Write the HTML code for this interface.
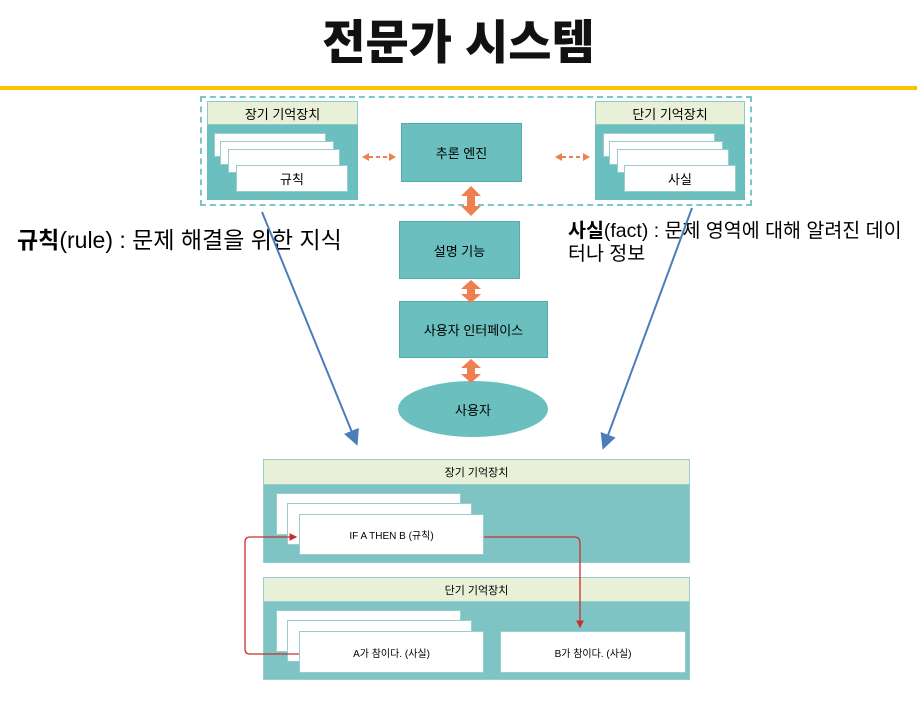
<!DOCTYPE html>
<html><head><meta charset="utf-8"><style>
body{margin:0;width:917px;height:703px;background:#fff;position:relative;overflow:hidden;font-family:"Liberation Sans","Noto Sans CJK KR",sans-serif;}
.a{position:absolute;box-sizing:border-box;}
.c{display:flex;align-items:center;justify-content:center;}
.w{background:#fff;border:1px solid #9cc;}
</style></head><body>
<div class="a c" style="left:0;top:8px;width:917px;height:60px;font-size:47px;font-weight:900;color:#111">전문가 시스템</div>
<div class="a" style="left:0;top:86px;width:917px;height:4px;background:#f5c300"></div>
<div class="a" style="left:200px;top:96px;width:552px;height:110px;border:2px dashed #7cc8c8"></div>

<div class="a" style="left:207px;top:101px;width:151px;height:99px;background:#6bbfbf"></div>
<div class="a c" style="left:207px;top:101px;width:151px;height:24px;background:#e9f0d8;border:1px solid #8cc;font-size:13px">장기 기억장치</div>
<div class="a w" style="left:214px;top:133px;width:112px;height:24px"></div>
<div class="a w" style="left:220px;top:141px;width:114px;height:24px"></div>
<div class="a w" style="left:228px;top:149px;width:112px;height:24px"></div>
<div class="a w c" style="left:236px;top:165px;width:112px;height:27px;font-size:13px">규칙</div>

<div class="a" style="left:595px;top:101px;width:150px;height:99px;background:#6bbfbf"></div>
<div class="a c" style="left:595px;top:101px;width:150px;height:24px;background:#e9f0d8;border:1px solid #8cc;font-size:13px">단기 기억장치</div>
<div class="a w" style="left:603px;top:133px;width:112px;height:24px"></div>
<div class="a w" style="left:609px;top:141px;width:114px;height:24px"></div>
<div class="a w" style="left:617px;top:149px;width:112px;height:24px"></div>
<div class="a w c" style="left:624px;top:165px;width:112px;height:27px;font-size:13px">사실</div>

<div class="a c" style="left:401px;top:123px;width:121px;height:59px;background:#6bbfbf;border:1px solid #5aa;font-size:13px">추론 엔진</div>
<div class="a c" style="left:399px;top:221px;width:121px;height:58px;background:#6bbfbf;border:1px solid #5aa;font-size:13px">설명 기능</div>
<div class="a c" style="left:399px;top:301px;width:149px;height:57px;background:#6bbfbf;border:1px solid #5aa;font-size:13px">사용자 인터페이스</div>
<div class="a c" style="left:398px;top:381px;width:150px;height:56px;background:#6bbfbf;border-radius:50%;font-size:13px">사용자</div>

<div class="a" style="left:17px;top:221px;font-size:23px;white-space:nowrap"><b>규칙</b>(rule) : 문제 해결을 위한 지식</div>
<div class="a" style="left:568px;top:220px;font-size:19.5px;line-height:23px;white-space:nowrap"><b>사실</b>(fact) : 문제 영역에 대해 알려진 데이<br>터나 정보</div>

<div class="a" style="left:263px;top:459px;width:427px;height:104px;background:#7fc4c4;border:1px solid #9cc"></div>
<div class="a c" style="left:263px;top:459px;width:427px;height:26px;background:#e9f0d8;border:1px solid #9cc;font-size:11px">장기 기억장치</div>
<div class="a w" style="left:276px;top:493px;width:185px;height:42px"></div>
<div class="a w" style="left:287px;top:503px;width:185px;height:42px"></div>
<div class="a w c" style="left:299px;top:514px;width:185px;height:41px;font-size:10px">IF A THEN B (규칙)</div>

<div class="a" style="left:263px;top:577px;width:427px;height:103px;background:#7fc4c4;border:1px solid #9cc"></div>
<div class="a c" style="left:263px;top:577px;width:427px;height:25px;background:#e9f0d8;border:1px solid #9cc;font-size:11px">단기 기억장치</div>
<div class="a w" style="left:276px;top:610px;width:185px;height:42px"></div>
<div class="a w" style="left:287px;top:620px;width:185px;height:42px"></div>
<div class="a w c" style="left:299px;top:631px;width:185px;height:42px;font-size:10px">A가 참이다. (사실)</div>
<div class="a w c" style="left:500px;top:631px;width:186px;height:42px;font-size:10px">B가 참이다. (사실)</div>

<svg class="a" style="left:0;top:0" width="917" height="703">
<defs>
<marker id="b" markerWidth="8" markerHeight="8" refX="6" refY="4" orient="auto"><path d="M0,0L8,4L0,8z" fill="#4a7ebb"/></marker>
<marker id="r" markerWidth="6" markerHeight="6" refX="5" refY="3" orient="auto"><path d="M0,0L6,3L0,6z" fill="#c83030"/></marker>
</defs>
<g fill="#ee8050">
<path d="M362,157 L369,153 L369,161z"/><path d="M396,157 L389,153 L389,161z"/>
<path d="M555,157 L562,153 L562,161z"/><path d="M590,157 L583,153 L583,161z"/>
</g>
<g stroke="#ee8050" stroke-width="2" stroke-dasharray="4,3" fill="none">
<line x1="369" y1="157" x2="389" y2="157"/><line x1="562" y1="157" x2="583" y2="157"/>
</g>
<g fill="#ee8050">
<path d="M471,186 L481,196 L475,196 L475,206 L481,206 L471,216 L461,206 L467,206 L467,196 L461,196z"/>
<path d="M471,280 L481,289 L475,289 L475,294 L481,294 L471,303 L461,294 L467,294 L467,289 L461,289z"/>
<path d="M471,359 L481,368 L475,368 L475,374 L481,374 L471,383 L461,374 L467,374 L467,368 L461,368z"/>
</g>
<g stroke="#4a7ebb" stroke-width="2" fill="none">
<line x1="262" y1="212" x2="356" y2="442" marker-end="url(#b)"/>
<line x1="692" y1="208" x2="604" y2="446" marker-end="url(#b)"/>
</g>
<g stroke="#c83030" stroke-width="1.3" fill="none">
<path d="M484,537 H574 Q580,537 580,543 V627" marker-end="url(#r)"/>
<path d="M299,654 H250 Q245,654 245,649 V542 Q245,537 250,537 H296" marker-end="url(#r)"/>
</g>
</svg>
</body></html>
